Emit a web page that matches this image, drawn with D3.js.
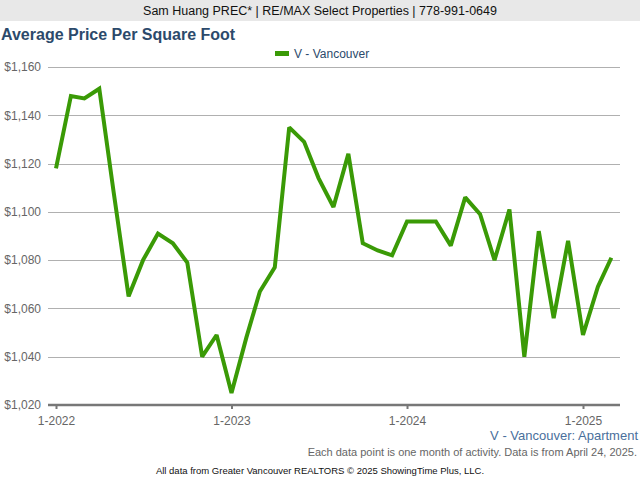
<!DOCTYPE html>
<html><head><meta charset="utf-8">
<script src="https://cdn.jsdelivr.net/npm/d3@7"></script>
<style>body{margin:0;background:#fff;}svg{display:block;font-family:"Liberation Sans",Arial,sans-serif;}</style>
</head><body>
<svg id="c" width="640" height="480"></svg>
<script>
const startYear = 2022, startMonth = 0;
const values = [1118,1148,1147,1151,1108,1065,1080,1091,1087,1079,1040,1049,
                1025,1048,1067,1077,1135,1129,1114,1102,1124,1087,1084,1082,
                1096,1096,1096,1086,1106,1099,1080,1101,1040,1092,1056,1088,
                1049,1069,1081];
const yTicks = [1020,1040,1060,1080,1100,1120,1140,1160];
const xTickLabels = ["1-2022","1-2023","1-2024","1-2025"];
const seriesName = "V - Vancouver";

(function(){
const dates = values.map((v,i)=>new Date(startYear, startMonth+i, 1));
const data = values.map((v,i)=>({d:dates[i], v}));

const svg = d3.select("#c");
svg.append("rect").attr("x",0).attr("y",0).attr("width",640).attr("height",21).attr("fill","#e8e8e8");
svg.append("text").attr("x",320).attr("y",15).attr("text-anchor","middle").attr("font-size",12.5).attr("fill","#111")
  .text("Sam Huang PREC* | RE/MAX Select Properties | 778-991-0649");
svg.append("text").attr("x",1).attr("y",40).attr("font-size",16).attr("font-weight","bold").attr("fill","#2c4a6b")
  .text("Average Price Per Square Foot");

const pl=48, pr=620, pt=67, pb=405;
const x = d3.scaleTime().domain([new Date(2022,0,1), new Date(2025,0,1)]).range([56,583]);
const y = d3.scaleLinear().domain([1020,1160]).range([pb, pt]);

// grid
svg.append("g").selectAll("line").data(yTicks.slice(1)).join("line")
  .attr("x1",pl).attr("x2",pr).attr("y1",d=>Math.round(y(d))+0.5).attr("y2",d=>Math.round(y(d))+0.5)
  .attr("stroke","#b0b0b0").attr("stroke-width",1);

// y axis labels
const yAxis = d3.axisLeft(y).tickValues(yTicks).tickSize(0).tickPadding(7)
  .tickFormat(d=>"$"+d3.format(",")(d));
const gy = svg.append("g").attr("transform",`translate(${pl},0)`).call(yAxis);
gy.select(".domain").remove();
gy.selectAll("text").attr("font-size",12).attr("fill","#666").attr("font-family","Liberation Sans, Arial, sans-serif");

// x axis
const xTickDates = xTickLabels.map(s=>{const [m,yy]=s.split("-");return new Date(+yy,+m-1,1);});
const xAxis = d3.axisBottom(x).tickValues(xTickDates).tickSize(4).tickPadding(7)
  .tickFormat((d,i)=>xTickLabels[i]);
const gx = svg.append("g").attr("transform",`translate(0,${pb})`).call(xAxis);
gx.select(".domain").remove();
gx.selectAll(".tick line").attr("stroke","#777").attr("stroke-width",2);
gx.selectAll("text").attr("font-size",12).attr("fill","#666").attr("font-family","Liberation Sans, Arial, sans-serif");
svg.append("line").attr("x1",pl).attr("x2",pr).attr("y1",pb).attr("y2",pb)
  .attr("stroke","#777").attr("stroke-width",2.5);

// line
const line = d3.line().x(d=>x(d.d)).y(d=>y(d.v));
svg.append("path").datum(data).attr("d",line).attr("fill","none")
  .attr("stroke","#3a9a06").attr("stroke-width",4).attr("stroke-linejoin","miter").attr("stroke-miterlimit",2);

// legend
svg.append("rect").attr("x",275).attr("y",51).attr("width",14).attr("height",5).attr("fill","#3a9a06");
svg.append("text").attr("x",294).attr("y",58).attr("font-size",12).attr("fill","#2c4a6b").text(seriesName);

// footer
svg.append("text").attr("x",638).attr("y",440).attr("text-anchor","end").attr("font-size",13).attr("fill","#4a6f9c")
  .text("V - Vancouver: Apartment");
svg.append("text").attr("x",637).attr("y",456).attr("text-anchor","end").attr("font-size",11).attr("fill","#666")
  .text("Each data point is one month of activity. Data is from April 24, 2025.");
svg.append("text").attr("x",320).attr("y",474).attr("text-anchor","middle").attr("font-size",9.5).attr("fill","#111")
  .text("All data from Greater Vancouver REALTORS © 2025 ShowingTime Plus, LLC.");
})();
</script>
</body></html>
